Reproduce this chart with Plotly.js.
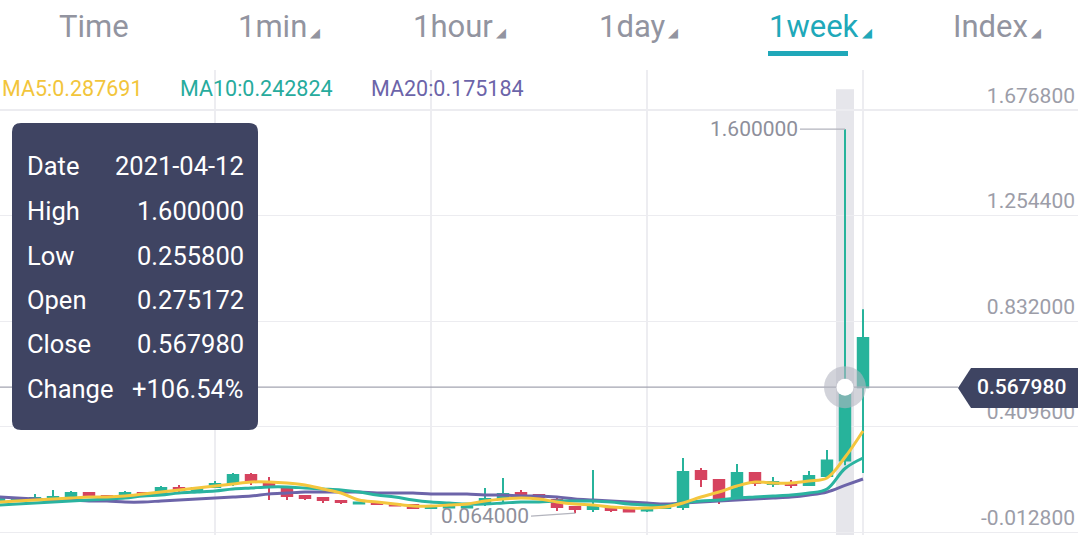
<!DOCTYPE html>
<html><head><meta charset="utf-8">
<script src="https://cdn.plot.ly/plotly-3.0.1.min.js"></script>
<style>html,body{margin:0;padding:0;background:#fff;overflow:hidden}#chart{width:1078px;height:535px}</style>
</head><body><div id="chart"></div>
<script>
// ---------- data (weekly candles) ----------
const dates = ['2020-05-18','2020-05-25','2020-06-01','2020-06-08','2020-06-15','2020-06-22','2020-06-29','2020-07-06','2020-07-13','2020-07-20',
  '2020-07-27','2020-08-03','2020-08-10','2020-08-17','2020-08-24','2020-08-31','2020-09-07','2020-09-14','2020-09-21','2020-09-28',
  '2020-10-05','2020-10-12','2020-10-19','2020-10-26','2020-11-02','2020-11-09','2020-11-16','2020-11-23','2020-11-30','2020-12-07',
  '2020-12-14','2020-12-21','2020-12-28','2021-01-04','2021-01-11','2021-01-18','2021-01-25','2021-02-01','2021-02-08','2021-02-15',
  '2021-02-22','2021-03-01','2021-03-08','2021-03-15','2021-03-22','2021-03-29','2021-04-05','2021-04-12','2021-04-19'];
const openP = [0.1088,0.1168,0.1168,0.1248,0.1288,0.1448,0.1328,0.1328,0.1448,0.1448,
  0.1648,0.1568,0.1688,0.1848,0.2168,0.1848,0.1648,0.1328,0.1248,0.1128,
  0.1028,0.1048,0.0988,0.0968,0.0848,0.0868,0.0868,0.1008,0.1248,0.1448,
  0.1368,0.1168,0.0888,0.0808,0.0848,0.0808,0.0748,0.0848,0.0888,0.2328,
  0.1968,0.1288,0.2248,0.1808,0.1848,0.1768,0.2128,0.275172,0.56798];
const highP = [0.1288,0.1288,0.1408,0.1568,0.1528,0.1488,0.1368,0.1528,0.1488,0.1728,
  0.1768,0.1688,0.1928,0.2248,0.2248,0.2088,0.1688,0.1368,0.1288,0.1168,
  0.1088,0.1048,0.1008,0.0968,0.0928,0.0888,0.0928,0.1648,0.2048,0.1568,
  0.1408,0.1248,0.0888,0.2368,0.0888,0.0848,0.0848,0.0968,0.2848,0.2448,
  0.1968,0.2608,0.2248,0.2088,0.1968,0.2328,0.3168,1.6,0.88];
const lowP = [0.1048,0.1128,0.1128,0.1248,0.1248,0.1248,0.1248,0.1288,0.1328,0.1408,
  0.1488,0.1528,0.1648,0.1728,0.1768,0.1168,0.1168,0.1168,0.1048,0.1008,
  0.1008,0.0968,0.0928,0.0848,0.0808,0.0848,0.0848,0.0928,0.1048,0.1208,
  0.1248,0.0728,0.064,0.0688,0.0688,0.0668,0.0688,0.0808,0.0768,0.1688,
  0.1008,0.1208,0.1728,0.1688,0.1648,0.1728,0.2088,0.2558,0.2248];
const closeP = [0.1248,0.1248,0.1248,0.1288,0.1448,0.1288,0.1288,0.1448,0.1408,0.1648,
  0.1568,0.1648,0.1808,0.2168,0.1968,0.1728,0.1328,0.1248,0.1168,0.1088,
  0.1068,0.1008,0.0948,0.0848,0.0888,0.0888,0.0908,0.1208,0.1408,0.1288,
  0.1288,0.0888,0.0808,0.0888,0.0768,0.0708,0.0788,0.0888,0.2288,0.2008,
  0.1208,0.2248,0.1848,0.1888,0.1768,0.2128,0.275,0.56798,0.7648];
const ma5 = [0.1088,0.1128,0.1168,0.1208,0.1248,0.1288,0.1288,0.1328,0.1408,0.1488,
  0.1568,0.1648,0.1728,0.1808,0.1888,0.1888,0.1848,0.1768,0.1608,0.1448,
  0.1168,0.1088,0.1008,0.0928,0.0928,0.0968,0.1008,0.1128,0.1208,0.1248,
  0.1208,0.1088,0.1008,0.0968,0.0888,0.0848,0.0848,0.0888,0.1048,0.1288,
  0.1488,0.1728,0.1888,0.1848,0.1848,0.1928,0.2048,0.287691,0.3928];
const ma10 = [0.0968,0.1008,0.1048,0.1088,0.1128,0.1168,0.1208,0.1248,0.1328,0.1368,
  0.1448,0.1488,0.1528,0.1608,0.1648,0.1688,0.1688,0.1648,0.1608,0.1568,
  0.1488,0.1368,0.1288,0.1168,0.1088,0.1048,0.1008,0.1008,0.1048,0.1088,
  0.1088,0.1128,0.1128,0.1128,0.1088,0.1008,0.0968,0.0928,0.1048,0.1128,
  0.1168,0.1248,0.1288,0.1328,0.1368,0.1448,0.1608,0.242824,0.2848];
const ma20 = [0.1288,0.1248,0.1208,0.1168,0.1168,0.1128,0.1128,0.1088,0.1088,0.1128,
  0.1168,0.1208,0.1248,0.1288,0.1328,0.1408,0.1448,0.1488,0.1488,0.1488,
  0.1488,0.1448,0.1448,0.1448,0.1408,0.1408,0.1408,0.1368,0.1368,0.1328,
  0.1328,0.1288,0.1208,0.1168,0.1128,0.1088,0.1048,0.1008,0.1048,0.1088,
  0.1128,0.1168,0.1208,0.1248,0.1288,0.1368,0.1488,0.175184,0.2008];
const yTicks = [-0.0128, 0.4096, 0.832, 1.2544, 1.6768];
const yTickText = ['-0.012800','0.409600','0.832000','1.254400','1.676800'];
const tabs = ['Time','1min','1hour','1day','1week','Index'];
const selectedTab = '1week';
const tooltipLabels = ['Date','High','Low','Open','Close','Change'];
const hoverIndex = 47;

// ---------- layout helpers (pixel -> paper) ----------
const W = 1078, H = 535, TOP = 70;
const fx = x => x / W;
const fy = y => (H - y) / (H - TOP);
const FONT = 'Roboto, "Noto Sans", sans-serif';
const GREEN = '#27b39b', RED = '#d6435f';
const GRAY = '#9294a0', TEAL = '#20a8b9';

function pathFromPx(pts) {
  return 'M ' + pts.map(p => fx(p[0]) + ',' + fy(p[1])).join(' L ') + ' Z';
}
function roundRectPx(x0, y0, x1, y1, r) {
  const P = (x, y) => fx(x) + ',' + fy(y);
  return 'M ' + P(x0 + r, y0) + ' L ' + P(x1 - r, y0) + ' Q ' + P(x1, y0) + ' ' + P(x1, y0 + r) +
    ' L ' + P(x1, y1 - r) + ' Q ' + P(x1, y1) + ' ' + P(x1 - r, y1) +
    ' L ' + P(x0 + r, y1) + ' Q ' + P(x0, y1) + ' ' + P(x0, y1 - r) +
    ' L ' + P(x0, y0 + r) + ' Q ' + P(x0, y0) + ' ' + P(x0 + r, y0) + ' Z';
}

const fmt = v => v.toFixed(6);
const hi = hoverIndex;
const changePct = (closeP[hi] / closeP[hi - 1] - 1) * 100;
const tooltipValues = [dates[hi], fmt(highP[hi]), fmt(lowP[hi]), fmt(openP[hi]), fmt(closeP[hi]),
  (changePct >= 0 ? '+' : '') + changePct.toFixed(2) + '%'];
const maxHigh = Math.max(...highP), maxIdx = highP.indexOf(maxHigh);
const minLow = Math.min(...lowP), minIdx = lowP.indexOf(minLow);

// ---------- traces ----------
const traces = [
  {type: 'candlestick', x: dates, open: openP, high: highP, low: lowP, close: closeP,
   increasing: {line: {color: GREEN, width: 2}, fillcolor: GREEN},
   decreasing: {line: {color: RED, width: 2}, fillcolor: RED},
   whiskerwidth: 0, hoverinfo: 'skip', showlegend: false},
  {type: 'scatter', mode: 'lines', x: dates, y: ma20, line: {color: '#6c64a9', width: 3, shape: 'spline', smoothing: 1}, hoverinfo: 'skip', showlegend: false},
  {type: 'scatter', mode: 'lines', x: dates, y: ma10, line: {color: '#2ab3a0', width: 3, shape: 'spline', smoothing: 1}, hoverinfo: 'skip', showlegend: false},
  {type: 'scatter', mode: 'lines', x: dates, y: ma5, line: {color: '#f4c63e', width: 3, shape: 'spline', smoothing: 1}, hoverinfo: 'skip', showlegend: false}
];

// ---------- annotations ----------
const annotations = [];
const tabX = [57, 236, 411, 597, 767, 951];
tabs.forEach((t, i) => {
  const sel = t === selectedTab;
  const tri = i === 0 ? '' : '<span style="font-size:13px"> ◢</span>';
  annotations.push({xref: 'paper', yref: 'paper', x: fx(tabX[i]), y: fy(27), xanchor: 'left', yanchor: 'middle',
    text: t + tri, showarrow: false, font: {family: FONT, size: 31, color: sel ? TEAL : GRAY}});
});
const maItems = [['MA5', ma5, '#f2c53b', 0], ['MA10', ma10, '#27ab9d', 178], ['MA20', ma20, '#6c64a9', 369]];
maItems.forEach(m => {
  annotations.push({xref: 'paper', yref: 'paper', x: fx(m[3]), y: fy(88), xanchor: 'left', yanchor: 'middle',
    text: m[0] + ':' + fmt(m[1][hi]), showarrow: false, font: {family: FONT, size: 21.5, color: m[2]}});
});
const rowY = [166, 211, 256, 300, 344, 389];
tooltipLabels.forEach((l, i) => {
  annotations.push({xref: 'paper', yref: 'paper', x: fx(25), y: fy(rowY[i]), xanchor: 'left', yanchor: 'middle',
    text: l, showarrow: false, font: {family: FONT, size: 25.5, color: '#ffffff'}});
  annotations.push({xref: 'paper', yref: 'paper', x: fx(246), y: fy(rowY[i]), xanchor: 'right', yanchor: 'middle',
    text: tooltipValues[i], showarrow: false, font: {family: FONT, size: 25.5, color: '#ffffff'}});
});
annotations.push({xref: 'paper', yref: 'y', x: fx(1021), y: closeP[hi], xanchor: 'center', yanchor: 'middle',
  text: fmt(closeP[hi]), showarrow: false, font: {family: FONT, size: 21, weight: 500, color: '#ffffff'}});
annotations.push({xref: 'x', yref: 'y', x: dates[maxIdx], y: maxHigh, text: fmt(maxHigh), showarrow: true,
  arrowhead: 0, arrowwidth: 1.2, arrowcolor: '#b3b4bd', ax: -45, ay: 0, xanchor: 'right',
  font: {family: FONT, size: 21, color: '#8e8f9b'}});
annotations.push({xref: 'x', yref: 'y', x: dates[minIdx], y: minLow, text: fmt(minLow), showarrow: true,
  arrowhead: 0, arrowwidth: 1.2, arrowcolor: '#b3b4bd', ax: -44, ay: 3, xanchor: 'right',
  font: {family: FONT, size: 21, color: '#8e8f9b'}});

// ---------- shapes ----------
const shapes = [
  {type: 'rect', xref: 'x', yref: 'y', x0: hi - 0.5, x1: hi + 0.5, y0: -0.0232, y1: 1.76,
   fillcolor: '#e6e6eb', line: {width: 0}, layer: 'below'},
  {type: 'line', xref: 'paper', yref: 'y', x0: 0, x1: fx(958), y0: closeP[hi], y1: closeP[hi],
   line: {color: '#a3a4b1', width: 1.2}, layer: 'above'},
  {type: 'circle', xref: 'x', yref: 'y', xsizemode: 'pixel', ysizemode: 'pixel', xanchor: hi, yanchor: closeP[hi],
   x0: -21, x1: 21, y0: -21, y1: 21, fillcolor: 'rgba(180,181,193,0.6)', line: {width: 0}, layer: 'above'},
  {type: 'circle', xref: 'x', yref: 'y', xsizemode: 'pixel', ysizemode: 'pixel', xanchor: hi, yanchor: closeP[hi],
   x0: -8.5, x1: 8.5, y0: -8.5, y1: 8.5, fillcolor: '#ffffff', line: {width: 0}, layer: 'above'},
  {type: 'path', xref: 'paper', yref: 'paper', path: pathFromPx([[958, 388], [971, 368], [1078, 368], [1078, 408], [971, 408]]),
   fillcolor: '#3e4462', line: {width: 0}, layer: 'above'},
  {type: 'path', xref: 'paper', yref: 'paper', path: roundRectPx(12, 123, 258, 430, 9),
   fillcolor: '#3f4462', line: {width: 0}, layer: 'above'},
  {type: 'rect', xref: 'paper', yref: 'paper', x0: fx(768), x1: fx(848), y0: fy(56), y1: fy(51),
   fillcolor: TEAL, line: {width: 0}, layer: 'above'}
];

const layout = {
  width: W, height: H, paper_bgcolor: '#ffffff', plot_bgcolor: '#ffffff',
  margin: {l: 0, r: 0, t: TOP, b: 0, pad: 0}, showlegend: false, boxgap: 0.17,
  font: {family: FONT},
  xaxis: {type: 'category', range: [1 / 18, 1 / 18 + W / 18], showgrid: true, gridcolor: '#ededf1', gridwidth: 1.2,
    tickmode: 'array', tickvals: [dates[12], dates[24], dates[36], dates[48]], showticklabels: false, ticks: '',
    zeroline: false, showline: false, rangeslider: {visible: false}, fixedrange: true},
  yaxis: {range: [-0.0232, 1.8368], side: 'right', tickmode: 'array', tickvals: yTicks, ticktext: yTickText,
    ticklabelposition: 'inside top', tickfont: {family: FONT, size: 21, color: '#9c9da8'},
    showgrid: true, gridcolor: '#ececf0', gridwidth: 1.2, zeroline: false, showline: false, ticks: '', fixedrange: true},
  annotations: annotations, shapes: shapes
};

Plotly.newPlot('chart', traces, layout, {displayModeBar: false, staticPlot: true});
</script>
</body></html>
